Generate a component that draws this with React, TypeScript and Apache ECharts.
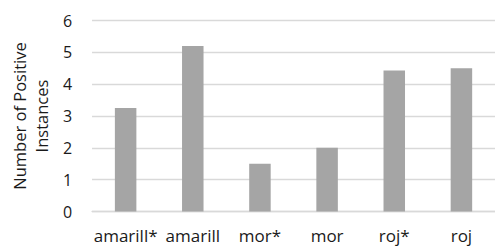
import React, { useEffect, useRef } from "react";
import * as echarts from "echarts";

const categories = ["amarill*", "amarill", "mor*", "mor", "roj*", "roj"];
const values = [3.25, 5.2, 1.5, 2.0, 4.43, 4.5];
const yTicks = [0, 1, 2, 3, 4, 5, 6];

export default function App() {
  const ref = useRef<HTMLDivElement>(null);
  useEffect(() => {
    if (!ref.current) return;
    const chart = echarts.init(ref.current, undefined, { renderer: "svg" });
    const font = "'Open Sans', sans-serif";
    chart.setOption({
      animation: false,
      grid: { left: 88, right: -6, top: 20.5, bottom: 34.5, containLabel: false },
      xAxis: {
        type: "category",
        data: categories,
        axisLine: { show: true, lineStyle: { color: "#d9d9d9", width: 1.3 } },
        axisTick: { show: false },
        axisLabel: { color: "#1a1a1a", fontSize: 17, fontFamily: font, margin: 15, interval: 0 },
      },
      yAxis: {
        type: "value",
        min: yTicks[0],
        max: yTicks[yTicks.length - 1],
        interval: 1,
        name: "Number of Positive\nInstances",
        nameLocation: "middle",
        nameGap: 27,
        nameTextStyle: { color: "#1a1a1a", fontSize: 16.5, fontFamily: font, lineHeight: 22 },
        axisLine: { show: false },
        axisTick: { show: false },
        axisLabel: { color: "#1a1a1a", fontSize: 16, fontFamily: font, margin: 20 },
        splitLine: { lineStyle: { color: "#d9d9d9", width: 1.3 } },
      },
      series: [
        {
          type: "bar",
          data: values,
          barWidth: 21.5,
          itemStyle: { color: "#a5a5a5" },
        },
      ],
    });
    return () => chart.dispose();
  }, []);
  return (
    <div
      ref={ref}
      style={{ position: "absolute", left: 0, top: 0, width: 495, height: 246, background: "#fff" }}
    />
  );
}
